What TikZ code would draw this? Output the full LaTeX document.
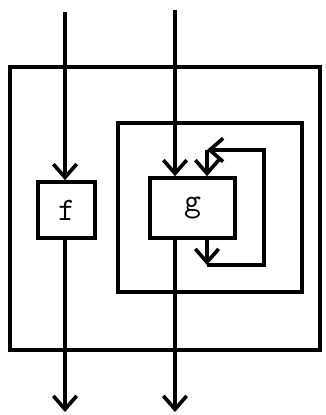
\documentclass[tikz,border=0pt]{standalone}
\usepackage{tikz}
\usetikzlibrary{arrows.meta,calc}

\begin{document}
\begin{tikzpicture}[
    x=0.03cm, y=-0.03cm,
    wire/.style={line width=3.1pt, line join=miter},
    flow/.style={wire, -{Straight Barb[length=0.4cm, width=0.7cm, line width=3.1pt]}},
    box/.style={rectangle, draw, line width=3.1pt, fill=white, inner sep=0pt, font=\ttfamily\fontsize{28}{30}\selectfont}
]
    \useasboundingbox (0,0) rectangle (325,415);

    % outer and inner frames
    \draw[wire] (10,67) rectangle (320,350);
    \draw[wire] (118,123) rectangle (302,292);

    % the two blocks
    \node[box, minimum width=1.7cm, minimum height=1.68cm] (f) at (66.5,210) {f};
    \node[box, minimum width=2.55cm, minimum height=1.8cm] (g) at (192.5,208) {g};

    % wire ends
    \coordinate (fin)  at (65,12);
    \coordinate (fout) at (65,412);
    \coordinate (gin)  at (175,10);
    \coordinate (gout) at (175,412);

    % feedback loop corners
    \coordinate (lb) at (207,265);
    \coordinate (rb) at (264,265);
    \coordinate (rt) at (264,150);
    \coordinate (lt) at (207,150);

    % main wires
    \draw[flow] (fin) -- (f.north -| fin);
    \draw[flow] (f.south -| fin) -- (fout);
    \draw[flow] (gin) -- (g.north -| gin);
    \draw[flow] (g.south -| gin) -- (gout);

    % feedback round g
    \draw[flow] (g.south -| lb) -- (lb);
    \draw[flow] (lb) -- (rb) -- (rt) -- (lt);
    \draw[flow] (lt) -- (g.north -| lt);
\end{tikzpicture}
\end{document}
